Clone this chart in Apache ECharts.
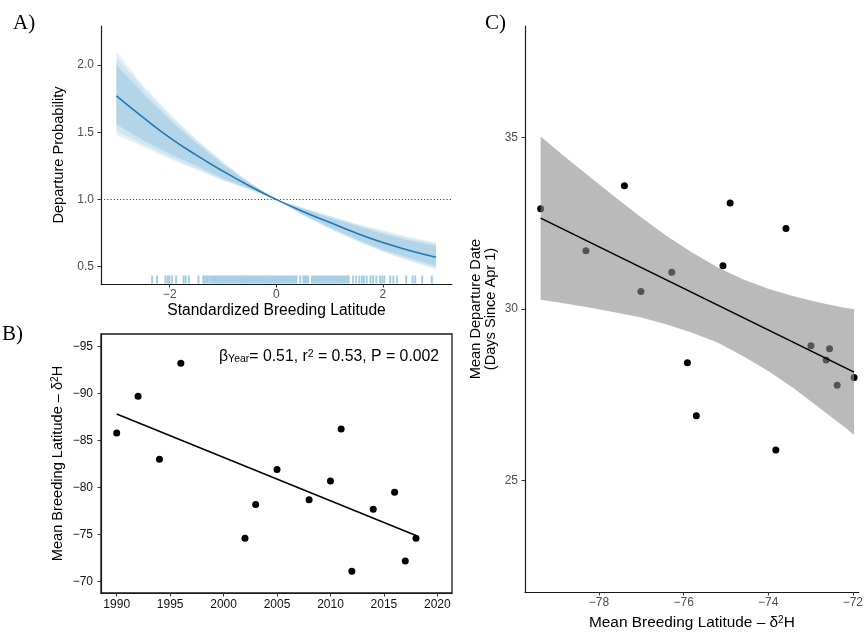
<!DOCTYPE html>
<html>
<head>
<meta charset="utf-8">
<script src="https://cdn.jsdelivr.net/npm/echarts@6/dist/echarts.min.js"></script>
<style>
  html, body { margin: 0; padding: 0; background: #fff; }
  #chart { width: 866px; height: 635px; }
</style>
</head>
<body>
<div id="chart"></div>
<script>
// ---- Panel A: posterior relationship of departure probability with latitude ----
const latStd = [-3, -2.5, -2, -1.5, -1, -0.5, 0, 0.5, 1, 1.5, 2, 2.5, 3];
const probMean = [1.77, 1.61, 1.46, 1.33, 1.21, 1.10, 1.00, 0.91, 0.83, 0.75, 0.68, 0.62, 0.57];
const probUpper = [2.10, 1.85, 1.64, 1.45, 1.28, 1.13, 1.00, 0.94, 0.88, 0.82, 0.77, 0.72, 0.68];
const probLower = [1.48, 1.39, 1.30, 1.22, 1.14, 1.07, 1.00, 0.88, 0.78, 0.69, 0.61, 0.54, 0.48];
const probUpperMid = [2.06, 1.83, 1.62, 1.44, 1.275, 1.125, 1.00, 0.935, 0.875, 0.815, 0.76, 0.71, 0.67];
const probLowerMid = [1.51, 1.41, 1.315, 1.23, 1.145, 1.075, 1.00, 0.885, 0.785, 0.695, 0.615, 0.55, 0.49];
const probUpperCore = [2.00, 1.79, 1.59, 1.42, 1.26, 1.12, 1.00, 0.93, 0.865, 0.805, 0.745, 0.695, 0.655];
const probLowerCore = [1.56, 1.44, 1.34, 1.25, 1.155, 1.08, 1.00, 0.89, 0.795, 0.705, 0.625, 0.565, 0.505];
const rugLat = [
  -2.33, -2.24, -2.08, -2.04, -2.01, -1.96, -1.88, -1.74, -1.70, -1.64, -1.46, -1.37, -1.34, -1.30, -1.27,
  -1.23, -1.20, -1.17, -1.14, -1.12, -1.09, -1.06, -1.03, -1.00, -0.97, -0.95, -0.92, -0.89, -0.86, -0.83,
  -0.80, -0.78, -0.75, -0.72, -0.69, -0.66, -0.63, -0.61, -0.58, -0.55, -0.52, -0.49, -0.46, -0.44, -0.41,
  -0.38, -0.35, -0.32, -0.29, -0.27, -0.24, -0.21, -0.18, -0.15, -0.12, -0.10, -0.07, -0.04, -0.01, 0.02,
  0.05, 0.08, 0.11, 0.14, 0.17, 0.20, 0.23, 0.26, 0.29, 0.32, 0.35, 0.38, 0.45, 0.51, 0.54, 0.57, 0.60,
  0.67, 0.70, 0.73, 0.76, 0.79, 0.82, 0.85, 0.88, 0.91, 0.94, 0.97, 1.00, 1.03, 1.06, 1.09, 1.12, 1.15,
  1.18, 1.21, 1.24, 1.27, 1.30, 1.33, 1.36,
  1.44, 1.50, 1.56, 1.61, 1.65, 1.70, 1.77, 1.82, 1.88, 1.95, 1.99, 2.03, 2.14, 2.20, 2.27, 2.44, 2.56,
  2.61, 2.74, 2.92
];
const ticksA_x = [-2, 0, 2];
const ticksA_y = [0.5, 1.0, 1.5, 2.0];

// ---- Panel B: mean breeding latitude by year ----
const years = [1990, 1992, 1994, 1996, 2002, 2003, 2005, 2008, 2010, 2011, 2012, 2014, 2016, 2017, 2018];
const breedLatYear = [-85.8, -89.7, -83.0, -93.2, -74.6, -78.2, -81.9, -78.7, -80.7, -86.2, -71.1, -77.7, -79.5, -72.2, -74.6];
const yearFitX = [1990, 2018];
const yearFitY = [-87.8, -74.9];
const ticksB_x = [1990, 1995, 2000, 2005, 2010, 2015, 2020];
const ticksB_y = [-95, -90, -85, -80, -75, -70];

// ---- Panel C: departure date against breeding latitude ----
const breedLat = [-79.38, -77.40, -74.90, -73.58, -75.07, -78.31, -76.28, -77.01, -72.99, -72.55, -72.63, -72.37, -71.97, -75.91, -75.70, -73.82];
const depDate = [32.92, 33.59, 33.09, 32.35, 31.26, 31.70, 31.07, 30.51, 28.93, 28.84, 28.51, 27.78, 28.00, 28.43, 26.89, 25.89];
const depFitX = [-79.38, -71.97];
const depFitY = [32.65, 28.16];
const ciX = [-79.38, -78.8, -78.2, -77.6, -77.0, -76.4, -75.8, -75.2, -74.6, -74.0, -73.4, -72.8, -72.2, -71.97];
const ciUpper = [35.03, 34.43, 33.83, 33.24, 32.67, 32.13, 31.65, 31.22, 30.87, 30.59, 30.37, 30.19, 30.04, 29.99];
const ciLower = [30.27, 30.16, 30.04, 29.90, 29.75, 29.55, 29.31, 29.02, 28.63, 28.19, 27.69, 27.13, 26.56, 26.33];
const ticksC_x = [-78, -76, -74, -72];
const ticksC_y = [25, 30, 35];

// ---- styling ----
const FONT = '"Liberation Sans", Arial, Helvetica, sans-serif';
const SERIF = '"Liberation Serif", "Times New Roman", serif';
const minus = v => (v < 0 ? '\u2212' + Math.abs(v) : String(v));
const X_TITLE = 15.6, Y_TITLE = 14.6;

const A_Y_MIN = 0.371, A_Y_MAX = 2.29;

function zip(xs, ys) { return xs.map((x, i) => [x, ys[i]]); }

// Filled ribbon between a lower and an upper curve, drawn as one polygon.
function ribbon(name, xs, lo, hi, color, axisIdx, z) {
  return {
    type: 'custom', name: name, xAxisIndex: axisIdx, yAxisIndex: axisIdx, z: z, silent: true,
    data: xs.map((x, i) => [x, lo[i], hi[i]]),
    encode: { x: 0, y: [1, 2] },
    renderItem: (params, api) => {
      if (params.dataIndexInside !== 0) return null;
      const n = params.dataInsideLength;
      const top = [], bottom = [];
      for (let i = 0; i < n; i++) {
        const x = api.value(0, i);
        top.push(api.coord([x, api.value(2, i)]));
        bottom.push(api.coord([x, api.value(1, i)]));
      }
      return {
        type: 'polygon',
        shape: { points: top.concat(bottom.reverse()) },
        style: { fill: color, stroke: null }
      };
    }
  };
}

function axisBase() {
  return {
    axisLine: { show: true, onZero: false, lineStyle: { color: '#1a1a1a', width: 1.2 } },
    splitLine: { show: false }
  };
}

function supRich(size) {
  return {
    t: { fontFamily: FONT, fontSize: size, color: '#000' },
    s: { fontFamily: FONT, fontSize: Math.round(size * 0.66), color: '#000', verticalAlign: 'top' }
  };
}

const option = {
  animation: false,
  backgroundColor: '#fff',
  grid: [
    { left: 101, top: 26, width: 351, height: 258 },
    { left: 101, top: 334, width: 351, height: 259, show: true, borderColor: '#1a1a1a', borderWidth: 1.3, backgroundColor: 'transparent' },
    { left: 525, top: 26, width: 341, height: 567 }
  ],
  xAxis: [
    Object.assign(axisBase(), {
      gridIndex: 0, type: 'value', min: -3.29, max: 3.30,
      name: 'Standardized Breeding Latitude', nameLocation: 'middle', nameGap: 19,
      nameTextStyle: { fontFamily: FONT, fontSize: X_TITLE, color: '#000' },
      axisLabel: { customValues: ticksA_x, formatter: minus, color: '#4d4d4d', fontFamily: FONT, fontSize: 12, margin: 5 },
      axisTick: { customValues: ticksA_x, length: 3.5, lineStyle: { color: '#333' } }
    }),
    Object.assign(axisBase(), {
      gridIndex: 1, type: 'value', min: 1988.53, max: 2021.37,
      axisLabel: { customValues: ticksB_x, formatter: v => String(v), color: '#111', fontFamily: FONT, fontSize: 12, margin: 6 },
      axisTick: { customValues: ticksB_x, length: 3.5, lineStyle: { color: '#333' } }
    }),
    Object.assign(axisBase(), {
      gridIndex: 2, type: 'value', min: -79.75, max: -71.86,
      name: '{t|Mean Breeding Latitude \u2013 \u03b4}{s|2}{t|H}', nameLocation: 'middle', nameGap: 23,
      nameTextStyle: { rich: supRich(15.4) },
      axisLabel: { customValues: ticksC_x, formatter: minus, color: '#4d4d4d', fontFamily: FONT, fontSize: 12, margin: 5 },
      axisTick: { customValues: ticksC_x, length: 3.5, lineStyle: { color: '#333' } }
    })
  ],
  yAxis: [
    Object.assign(axisBase(), {
      gridIndex: 0, type: 'value', min: A_Y_MIN, max: A_Y_MAX,
      name: 'Departure Probability', nameLocation: 'middle', nameGap: 35,
      nameTextStyle: { fontFamily: FONT, fontSize: Y_TITLE, color: '#000' },
      axisLabel: { customValues: ticksA_y, formatter: v => v.toFixed(1), color: '#4d4d4d', fontFamily: FONT, fontSize: 12, margin: 7 },
      axisTick: { customValues: ticksA_y, length: 3.5, lineStyle: { color: '#333' } }
    }),
    Object.assign(axisBase(), {
      gridIndex: 1, type: 'value', inverse: true, min: -96.3, max: -68.8,
      name: '{t|Mean Breeding Latitude \u2013 \u03b4}{s|2}{t|H}', nameLocation: 'middle', nameGap: 36,
      nameTextStyle: { rich: supRich(Y_TITLE) },
      axisLabel: { customValues: ticksB_y, formatter: minus, color: '#111', fontFamily: FONT, fontSize: 12, margin: 8 },
      axisTick: { customValues: ticksB_y, length: 3.5, lineStyle: { color: '#333' } }
    }),
    Object.assign(axisBase(), {
      gridIndex: 2, type: 'value', min: 21.75, max: 38.25,
      name: 'Mean Departure Date\n(Days Since Apr 1)', nameLocation: 'middle', nameGap: 27,
      nameTextStyle: { fontFamily: FONT, fontSize: Y_TITLE, color: '#000', lineHeight: 15, align: 'center' },
      axisLabel: { customValues: ticksC_y, color: '#4d4d4d', fontFamily: FONT, fontSize: 12, margin: 7 },
      axisTick: { customValues: ticksC_y, length: 3.5, lineStyle: { color: '#333' } }
    })
  ],
  series: [
    // Panel A: spread of posterior draws, fading towards the outer edge
    ribbon('drawsOuter', latStd, probLower, probUpper, 'rgba(166,206,227,0.28)', 0, 2),
    ribbon('drawsMid', latStd, probLowerMid, probUpperMid, 'rgba(166,206,227,0.35)', 0, 2),
    ribbon('drawsCore', latStd, probLowerCore, probUpperCore, 'rgba(166,206,227,0.7)', 0, 3),
    {
      type: 'line', name: 'meanCurve', xAxisIndex: 0, yAxisIndex: 0,
      data: zip(latStd, probMean), symbol: 'none', smooth: true, z: 5,
      lineStyle: { color: '#1f78b4', width: 1.6 },
      markLine: {
        silent: true, symbol: 'none', label: { show: false },
        lineStyle: { type: [1, 2.2], color: '#222', width: 1 },
        data: [{ yAxis: 1 }]
      }
    },
    {
      type: 'custom', name: 'rug', xAxisIndex: 0, yAxisIndex: 0, z: 4, silent: true,
      data: rugLat.map(x => [x, A_Y_MIN]),
      encode: { x: 0, y: 1 },
      renderItem: (params, api) => {
        const p = api.coord([api.value(0), api.value(1)]);
        return {
          type: 'line',
          shape: { x1: p[0], y1: p[1] - 0.5, x2: p[0], y2: p[1] - 8.5 },
          style: { stroke: 'rgb(166,206,227)', lineWidth: 2 }
        };
      }
    },

    // Panel B
    {
      type: 'scatter', name: 'yearPoints', xAxisIndex: 1, yAxisIndex: 1,
      data: zip(years, breedLatYear), symbolSize: 7, itemStyle: { color: '#000', opacity: 1 }, z: 3
    },
    {
      type: 'line', name: 'yearFit', xAxisIndex: 1, yAxisIndex: 1,
      data: zip(yearFitX, yearFitY), symbol: 'none', z: 4,
      lineStyle: { color: '#000', width: 1.5 }
    },

    // Panel C: points sit under a translucent confidence ribbon
    {
      type: 'scatter', name: 'depPoints', xAxisIndex: 2, yAxisIndex: 2,
      data: zip(breedLat, depDate), symbolSize: 7, itemStyle: { color: '#000', opacity: 1 }, z: 2
    },
    ribbon('depCI', ciX, ciLower, ciUpper, 'rgba(140,140,140,0.6)', 2, 3),
    {
      type: 'line', name: 'depFit', xAxisIndex: 2, yAxisIndex: 2,
      data: zip(depFitX, depFitY), symbol: 'none', z: 5,
      lineStyle: { color: '#000', width: 1.6 }
    }
  ],
  graphic: [
    { type: 'text', x: 13, y: 23, style: { text: 'A)', font: '21px ' + SERIF, fill: '#000', verticalAlign: 'middle' } },
    { type: 'text', x: 2, y: 334, style: { text: 'B)', font: '21px ' + SERIF, fill: '#000', verticalAlign: 'middle' } },
    { type: 'text', x: 485, y: 23, style: { text: 'C)', font: '21px ' + SERIF, fill: '#000', verticalAlign: 'middle' } },
    {
      type: 'text', x: 219, y: 357,
      style: {
        text: '{g|\u03b2}{sub|Year}{t|= 0.51, r}{sup|2}{t| = 0.53, P = 0.002}',
        verticalAlign: 'middle',
        rich: {
          g: { fontFamily: FONT, fontSize: 15.8, fill: '#000' },
          t: { fontFamily: FONT, fontSize: 15.8, fill: '#000' },
          sub: { fontFamily: FONT, fontSize: 10.5, fill: '#000', verticalAlign: 'bottom' },
          sup: { fontFamily: FONT, fontSize: 10.5, fill: '#000', verticalAlign: 'top' }
        }
      }
    }
  ]
};

const chart = echarts.init(document.getElementById('chart'), null, { renderer: 'canvas' });
chart.setOption(option);
</script>
</body>
</html>
